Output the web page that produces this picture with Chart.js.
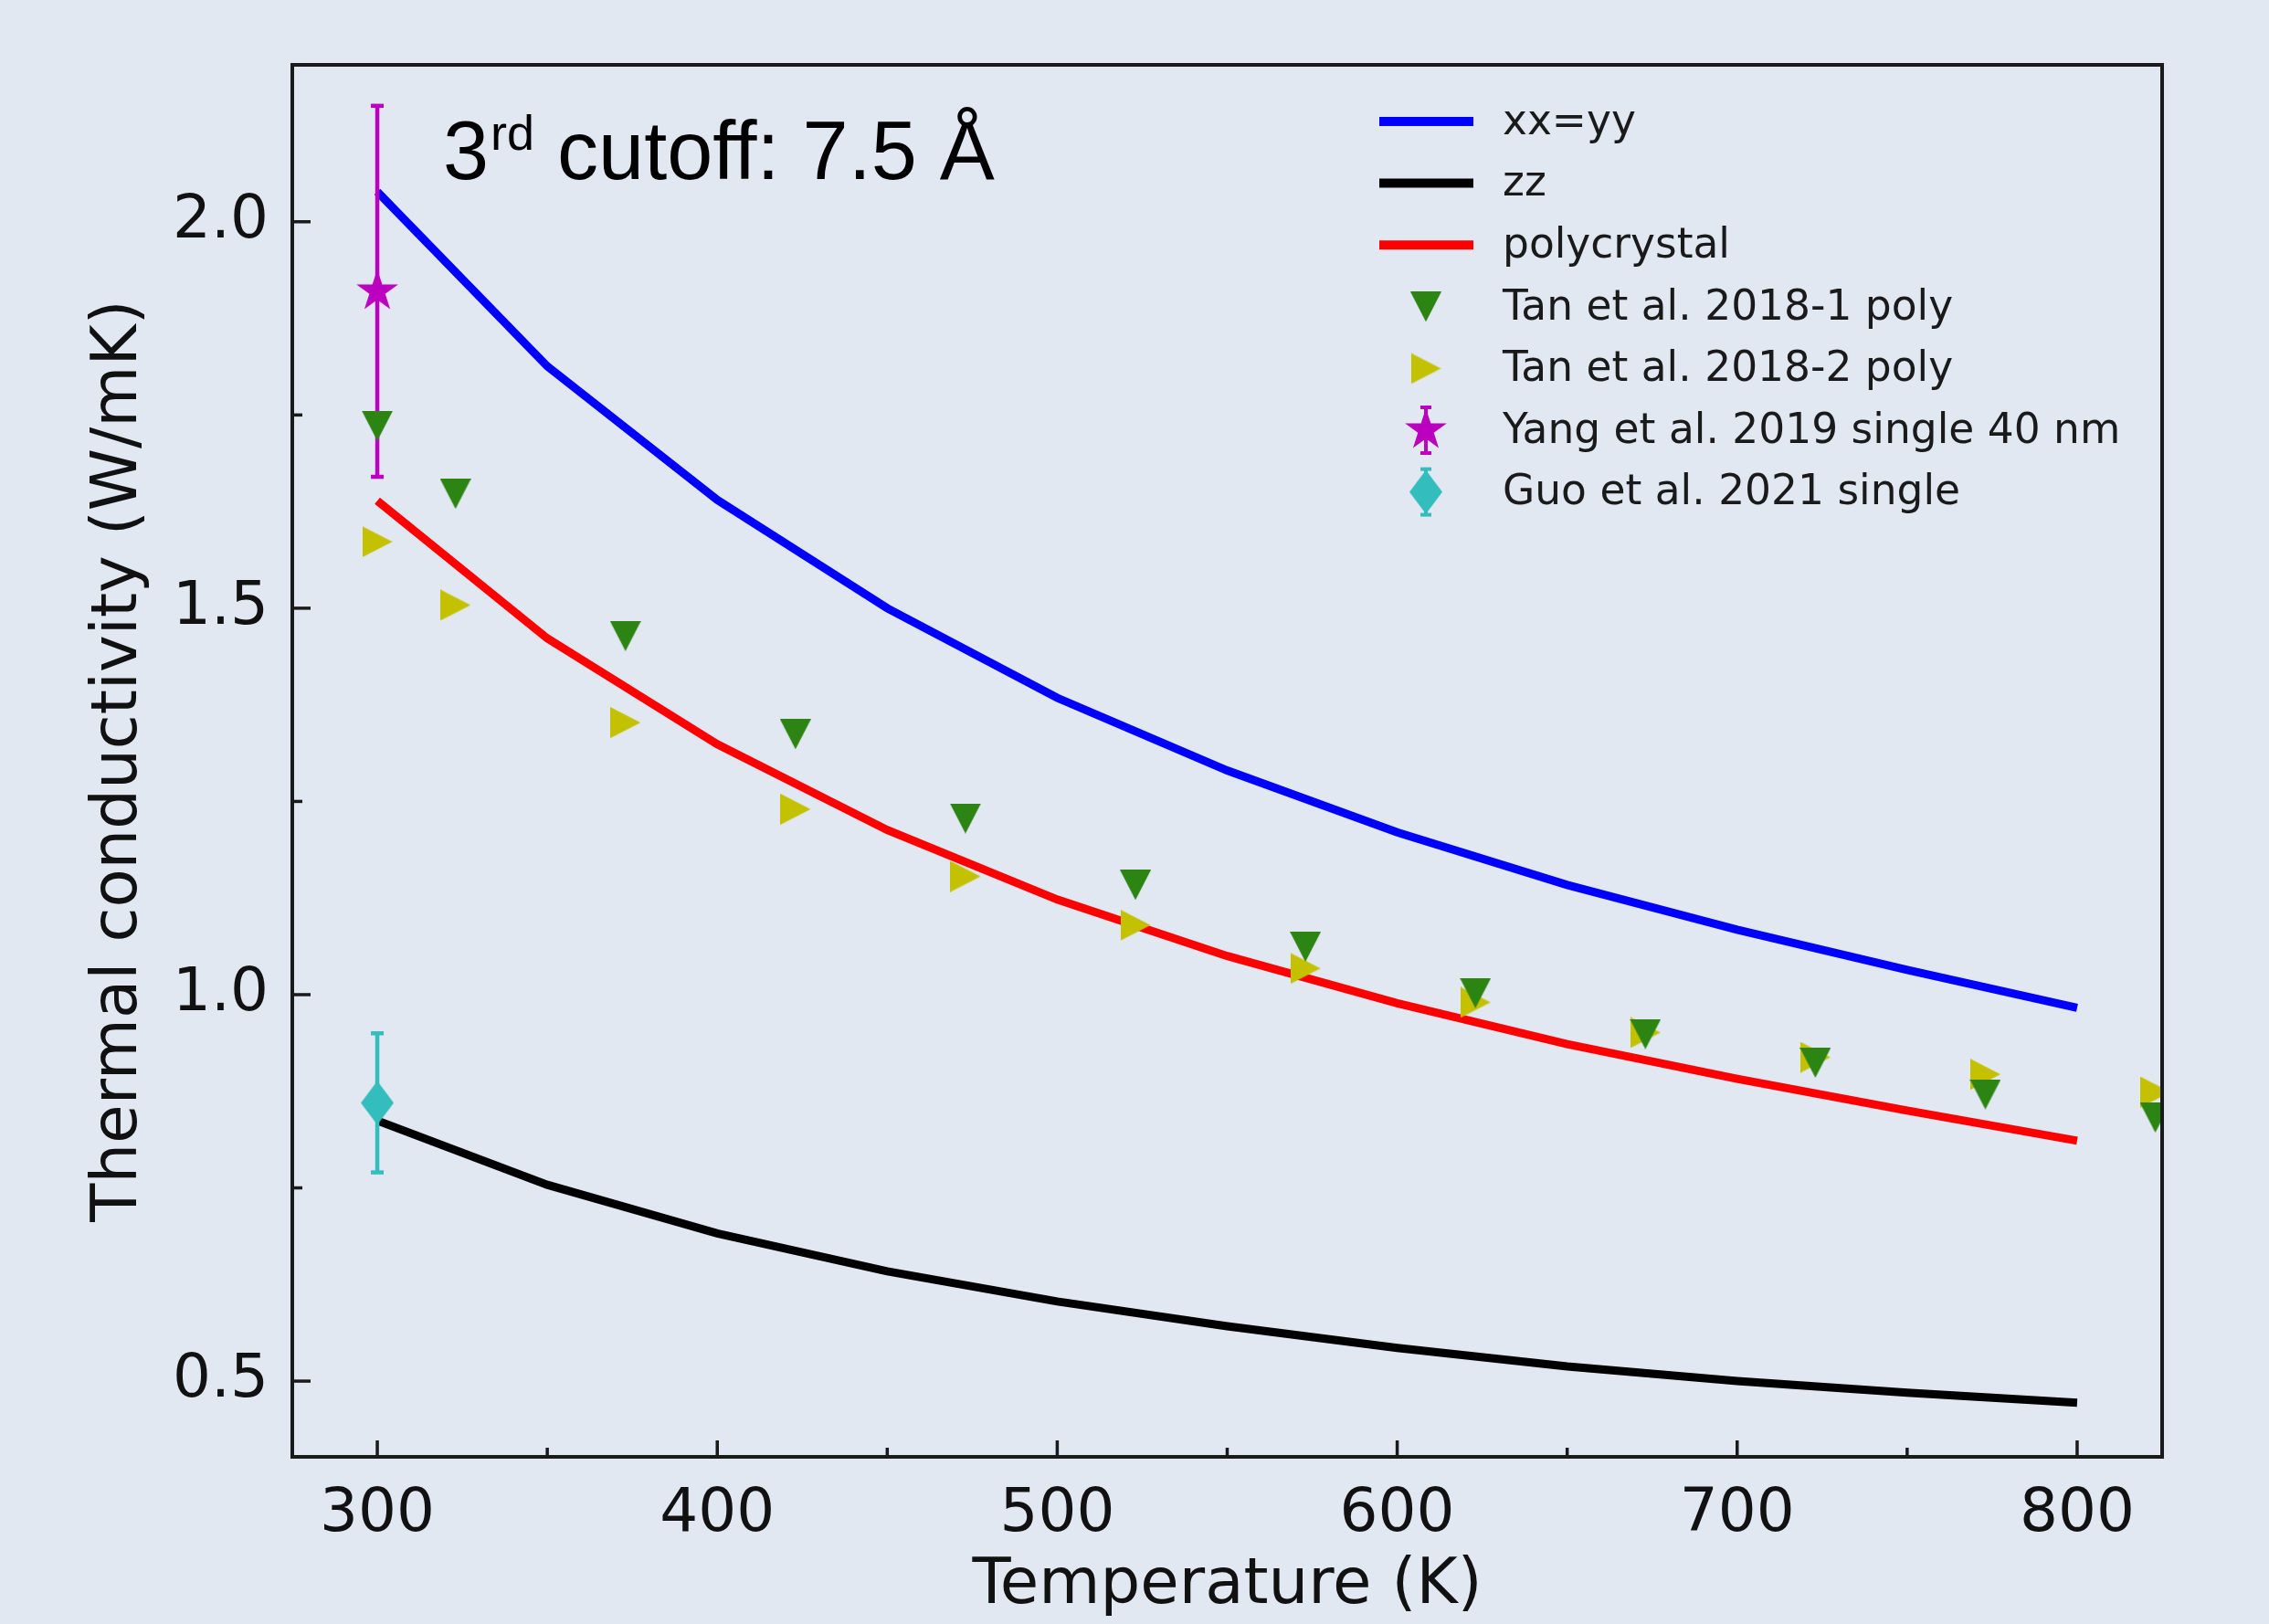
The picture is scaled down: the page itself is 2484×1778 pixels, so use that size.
<!DOCTYPE html>
<html>
<head>
<meta charset="utf-8">
<script src="https://cdn.jsdelivr.net/npm/chart.js@4.4.0/dist/chart.umd.min.js"></script>
<style>
  html, body { margin: 0; padding: 0; background: #E1E8F2; }
  #wrap { width: 2484px; height: 1778px; }
</style>
</head>
<body>
<div id="wrap"><canvas id="kappaChart" width="2484" height="1778"></canvas></div>
<script>
// calculated curves (W/mK)
const temps = [300, 350, 400, 450, 500, 550, 600, 650, 700, 750, 800];
const kappaXX = [2.039, 1.813, 1.640, 1.500, 1.384, 1.290, 1.210, 1.142, 1.084, 1.032, 0.983];
const kappaZZ = [0.837, 0.754, 0.691, 0.642, 0.603, 0.571, 0.543, 0.519, 0.500, 0.485, 0.472];
const kappaPoly = [1.639, 1.461, 1.324, 1.213, 1.123, 1.050, 0.989, 0.936, 0.891, 0.850, 0.811];

// experiments
const tanTemps = [300, 323, 373, 423, 473, 523, 573, 623, 673, 723, 773, 823];
const tan1 = [1.736, 1.648, 1.464, 1.337, 1.228, 1.142, 1.062, 1.002, 0.949, 0.912, 0.871, 0.841];
const tan2 = [1.586, 1.504, 1.352, 1.240, 1.153, 1.090, 1.034, 0.990, 0.951, 0.919, 0.897, 0.874];
const yangT = [300];
const yangK = [1.91];
const yangErr = [0.24];
const guoT = [300];
const guoK = [0.86];
const guoErr = [0.09];

const labels = ['xx=yy', 'zz', 'polycrystal', 'Tan et al. 2018-1 poly', 'Tan et al. 2018-2 poly',
                'Yang et al. 2019 single 40 nm', 'Guo et al. 2021 single'];

const xTicks = [300, 400, 500, 600, 700, 800];
const xMinor = [350, 450, 550, 650, 750];
const yTicks = [0.5, 1.0, 1.5, 2.0];
const yMinor = [0.75, 1.25, 1.75];

const BG = '#E1E8F2';
const colors = {
    xx: '#0000FF', zz: '#000000', poly: '#FF0000',
    tan1: '#2C8512', tan2: '#C4C200', yang: '#BB00BF', guo: '#33BDBD'
};

// matplotlib-like filled markers as small canvases
function makeMarker(kind, color, w, h) {
    const c = document.createElement('canvas');
    c.width = w; c.height = h;
    const g = c.getContext('2d');
    g.fillStyle = color;
    g.beginPath();
    if (kind === 'down') {
        g.moveTo(0, 0); g.lineTo(w, 0); g.lineTo(w / 2, h);
    } else if (kind === 'right') {
        g.moveTo(0, 0); g.lineTo(w, h / 2); g.lineTo(0, h);
    } else if (kind === 'diamond') {
        g.moveTo(w / 2, 0); g.lineTo(w, h / 2); g.lineTo(w / 2, h); g.lineTo(0, h / 2);
    } else if (kind === 'star') {
        const R = w / 2, r = R * 0.382, cx = w / 2, cy = h / 2;
        for (let i = 0; i < 10; i++) {
            const rad = (i % 2 === 0 ? R : r);
            const ang = -Math.PI / 2 + i * Math.PI / 5;
            g.lineTo(cx + rad * Math.cos(ang), cy + rad * Math.sin(ang));
        }
    }
    g.closePath();
    g.fill();
    return c;
}

const mTan1 = makeMarker('down', colors.tan1, 34, 33);
const mTan2 = makeMarker('right', colors.tan2, 33, 34);
const mYang = makeMarker('star', colors.yang, 48, 48);
const mGuo = makeMarker('diamond', colors.guo, 36, 48);

const pts = (xs, ys) => xs.map((x, i) => ({ x: x, y: ys[i] }));
const errPts = (xs, ys, es) => [{ x: xs[0], y: ys[0] - es[0] }, { x: xs[0], y: ys[0] + es[0] }];

function curve(label, data, color) {
    return {
        label: label, data: data, showLine: true, borderColor: color, backgroundColor: color,
        borderWidth: 9, pointRadius: 0, tension: 0, order: 3
    };
}
function markers(label, data, img) {
    return {
        label: label, data: data, showLine: false, pointStyle: img,
        pointRadius: 17, pointHoverRadius: 17, order: 0
    };
}
function errbar(data, color) {
    return {
        label: '', data: data, showLine: true, borderColor: color, backgroundColor: color,
        borderWidth: 4.5, pointStyle: 'line', pointRadius: 7, pointBorderWidth: 4.5,
        pointBorderColor: color, order: 1
    };
}

const axesDecor = {
    id: 'axesDecor',
    beforeDraw(chart) {
        const ctx = chart.ctx;
        ctx.save();
        ctx.fillStyle = BG;
        ctx.fillRect(0, 0, chart.width, chart.height);
        ctx.restore();
    },
    afterDraw(chart) {
        const { ctx, chartArea: a, scales: { x, y } } = chart;
        ctx.save();
        ctx.strokeStyle = '#1a1a1a';
        ctx.lineWidth = 3.5;
        const seg = (x1, y1, x2, y2) => { ctx.beginPath(); ctx.moveTo(x1, y1); ctx.lineTo(x2, y2); ctx.stroke(); };
        xTicks.forEach(v => { const p = x.getPixelForValue(v); seg(p, a.bottom, p, a.bottom - 18); });
        xMinor.forEach(v => { const p = x.getPixelForValue(v); seg(p, a.bottom, p, a.bottom - 10); });
        yTicks.forEach(v => { const p = y.getPixelForValue(v); seg(a.left, p, a.left + 20, p); });
        yMinor.forEach(v => { const p = y.getPixelForValue(v); seg(a.left, p, a.left + 11, p); });
        ctx.lineWidth = 4;
        ctx.strokeRect(a.left, a.top, a.right - a.left, a.bottom - a.top);

        // annotation
        ctx.fillStyle = '#000';
        ctx.textBaseline = 'alphabetic';
        let tx = a.left + 165, ty = a.top + 125;
        ctx.font = '90px "Liberation Sans", Arial, sans-serif';
        ctx.fillText('3', tx, ty);
        tx += ctx.measureText('3').width + 2;
        ctx.font = '54px "Liberation Sans", Arial, sans-serif';
        ctx.fillText('rd', tx, ty - 32);
        tx += ctx.measureText('rd').width;
        ctx.font = '90px "Liberation Sans", Arial, sans-serif';
        ctx.fillText(' cutoff: 7.5 Å', tx, ty);

        // legend
        const lx = 1510, lw = 103, mx = 1561, textX = 1645, row0 = 133, step = 67.6;
        ctx.font = '45.5px "DejaVu Sans", sans-serif';
        ctx.textBaseline = 'middle';
        const lineCols = [colors.xx, colors.zz, colors.poly];
        labels.forEach((lab, i) => {
            const cy = row0 + i * step;
            if (i < 3) {
                ctx.strokeStyle = lineCols[i];
                ctx.lineWidth = 10;
                seg(lx, cy, lx + lw, cy);
            } else if (i === 3) {
                ctx.drawImage(mTan1, mx - mTan1.width / 2, cy - mTan1.height / 2);
            } else if (i === 4) {
                ctx.drawImage(mTan2, mx - mTan2.width / 2, cy - mTan2.height / 2);
            } else {
                const col = i === 5 ? colors.yang : colors.guo;
                const img = i === 5 ? mYang : mGuo;
                ctx.strokeStyle = col;
                ctx.lineWidth = 4;
                seg(mx, cy - 25, mx, cy + 25);
                seg(mx - 6, cy - 25, mx + 6, cy - 25);
                seg(mx - 6, cy + 25, mx + 6, cy + 25);
                ctx.drawImage(img, mx - img.width / 2, cy - img.height / 2);
            }
            ctx.fillStyle = '#1a1a1a';
            ctx.fillText(lab, textX, cy + 2);
        });
        ctx.restore();
    }
};

const ctx = document.getElementById('kappaChart').getContext('2d');
new Chart(ctx, {
    type: 'scatter',
    data: {
        datasets: [
            curve(labels[0], pts(temps, kappaXX), colors.xx),
            curve(labels[1], pts(temps, kappaZZ), colors.zz),
            curve(labels[2], pts(temps, kappaPoly), colors.poly),
            markers(labels[3], pts(tanTemps, tan1), mTan1),
            markers(labels[4], pts(tanTemps, tan2), mTan2),
            errbar(errPts(yangT, yangK, yangErr), colors.yang),
            markers(labels[5], pts(yangT, yangK), mYang),
            errbar(errPts(guoT, guoK, guoErr), colors.guo),
            markers(labels[6], pts(guoT, guoK), mGuo)
        ]
    },
    options: {
        responsive: false,
        devicePixelRatio: 1,
        animation: false,
        layout: { padding: { left: 0, top: 71, right: 117, bottom: 0 } },
        plugins: { legend: { display: false }, tooltip: { enabled: false } },
        scales: {
            x: {
                type: 'linear', min: 275, max: 825,
                afterBuildTicks: s => { s.ticks = xTicks.map(v => ({ value: v })); },
                afterFit: s => { s.height = 183; },
                grid: { display: false },
                border: { display: false },
                ticks: { color: '#111', padding: 16, font: { family: 'DejaVu Sans', size: 66 } },
                title: {
                    display: true, text: 'Temperature (K)', color: '#111',
                    font: { family: 'DejaVu Sans', size: 69 }, padding: { top: 0, bottom: 0 }
                }
            },
            y: {
                type: 'linear', min: 0.402, max: 2.203,
                afterBuildTicks: s => { s.ticks = yTicks.map(v => ({ value: v })); },
                afterFit: s => { s.width = 320; },
                grid: { display: false },
                border: { display: false },
                ticks: {
                    color: '#111', padding: 18, font: { family: 'DejaVu Sans', size: 66 },
                    callback: v => Number(v).toFixed(1)
                },
                title: {
                    display: true, text: 'Thermal conductivity (W/mK)', color: '#111',
                    font: { family: 'DejaVu Sans', size: 69 }, padding: { top: 90, bottom: 0 }
                }
            }
        }
    },
    plugins: [axesDecor]
});
</script>
</body>
</html>
